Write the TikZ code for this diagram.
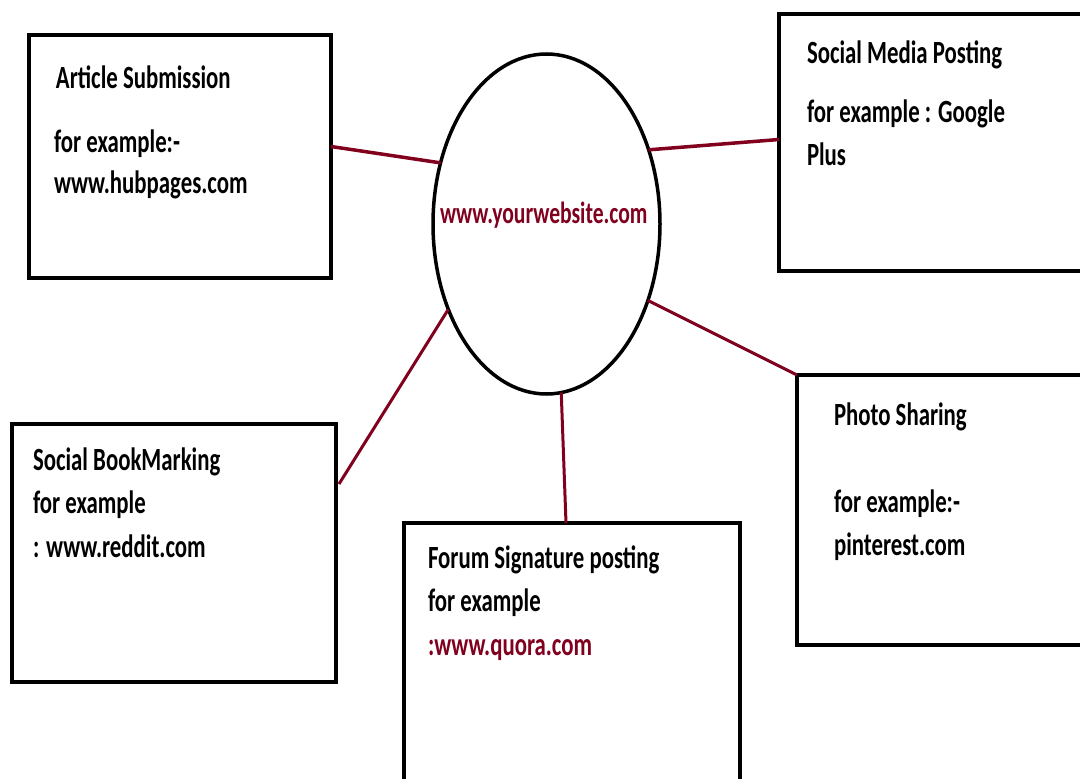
\documentclass[tikz,border=0pt]{standalone}
\usepackage{fontspec}
\setmainfont{Carlito}
\usetikzlibrary{shapes.geometric}
\definecolor{dred}{RGB}{128,0,30}
\newcommand{\tx}[1]{\scalebox{1}[1.42]{#1}}
\tikzset{
  boxnode/.style={draw=black, line width=4pt, rectangle, inner sep=0pt, outer sep=0pt, anchor=north west},
  link/.style={draw=dred, line width=3pt},
  lbl/.style={anchor=base west, inner sep=0pt, outer sep=0pt, font=\fontsize{22.8}{26}\selectfont\bfseries},
}
\begin{document}
\begin{tikzpicture}[x=1pt,y=-1pt]
\useasboundingbox (0,0) rectangle (1080,779);
\clip (0,0) rectangle (1080,779);
% boxes
\node[boxnode, minimum width=302pt, minimum height=243pt] (b1) at (29,35) {};
\node[boxnode, minimum width=320pt, minimum height=257pt] (b2) at (779,14) {};
\node[boxnode, minimum width=324pt, minimum height=258pt] (b3) at (12,424) {};
\node[boxnode, minimum width=336pt, minimum height=280pt] (b4) at (404,523) {};
\node[boxnode, minimum width=300pt, minimum height=270pt] (b5) at (797,375) {};
% ellipse
\node[ellipse, draw=black, line width=3.5pt, inner sep=0pt, outer sep=0pt,
      minimum width=227pt, minimum height=340pt] (web) at (546.5,224) {};
% connectors
\draw[link, line width=3.5pt] ([yshift=10pt]b1.east) -- (web.150);
\draw[link, line width=3.5pt] (web.36) -- ([yshift=3pt]b2.west);
\draw[link] (web.221) -- ([xshift=3pt,yshift=69pt]b3.east);
\draw[link] (web.275) -- ([xshift=162pt]b4.north west);
\draw[link] (web.323) -- (b5.north west);
% texts
\node[lbl, text=dred, font=\fontsize{21.6}{26}\selectfont\bfseries] (tw) at (440,223) {\tx{www.yourwebsite.com}};
\node[lbl] (t1a) at (56,88) {\tx{Article Submission}};
\node[lbl] (t1b) at (54,152) {\tx{for example:-}};
\node[lbl] (t1c) at (54,193) {\tx{www.hubpages.com}};
\node[lbl] (t2a) at (807,63) {\tx{Social Media Posting}};
\node[lbl] (t2b) at (807,122) {\tx{for example : Google}};
\node[lbl] (t2c) at (807,165) {\tx{Plus}};
\node[lbl] (t3a) at (33,470) {\tx{Social BookMarking}};
\node[lbl] (t3b) at (33,513) {\tx{for example}};
\node[lbl] (t3c) at (33,557) {\tx{: www.reddit.com}};
\node[lbl] (t4a) at (428,568) {\tx{Forum Signature posting}};
\node[lbl] (t4b) at (428,611) {\tx{for example}};
\node[lbl, text=dred] (t4c) at (428,655) {\tx{:www.quora.com}};
\node[lbl] (t5a) at (834,425) {\tx{Photo Sharing}};
\node[lbl] (t5b) at (834,512) {\tx{for example:-}};
\node[lbl] (t5c) at (834,555) {\tx{pinterest.com}};
\end{tikzpicture}
\end{document}
